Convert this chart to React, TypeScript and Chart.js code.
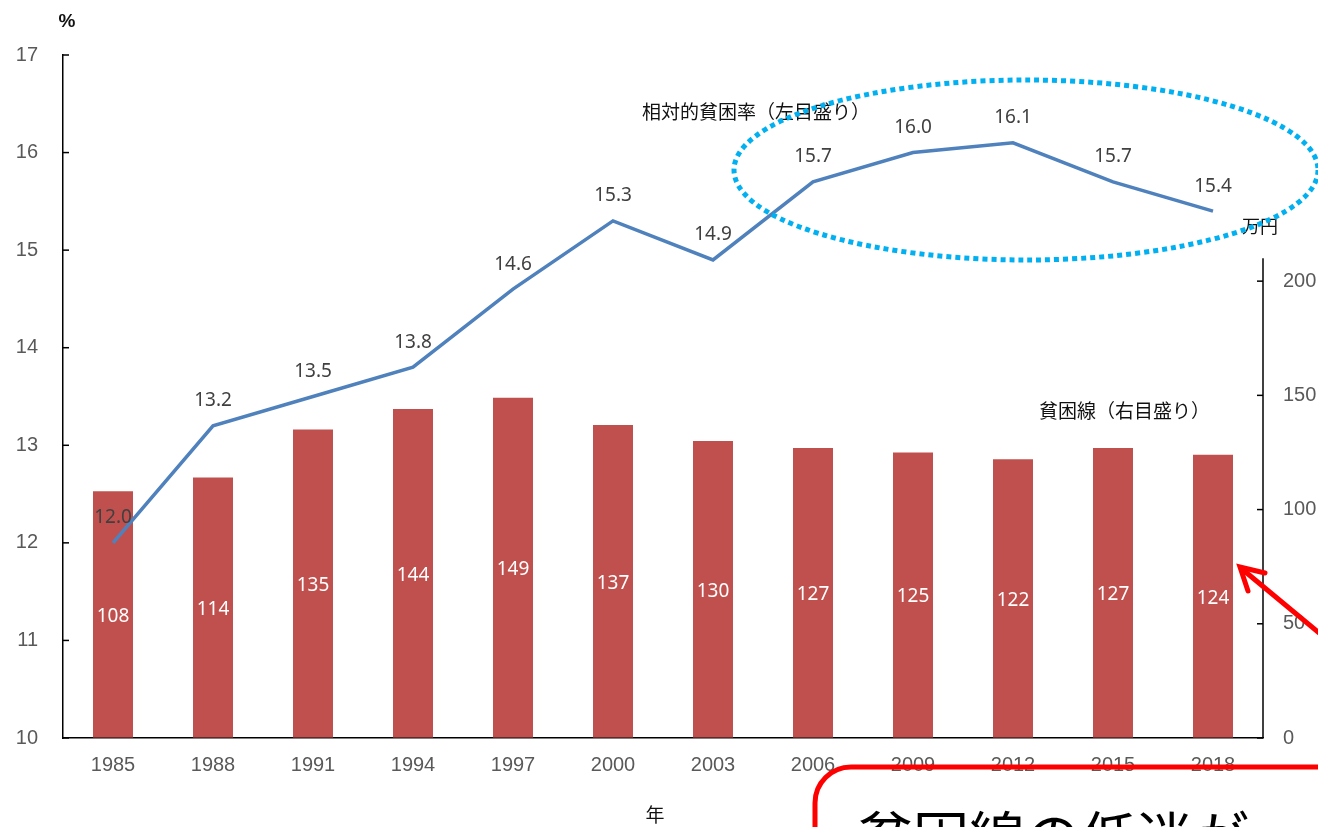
import React, { useEffect, useRef } from "react";
import { Chart, registerables } from "chart.js";

Chart.register(...registerables);

const categories = ["1985", "1988", "1991", "1994", "1997", "2000", "2003", "2006", "2009", "2012", "2015", "2018"];
const povertyRate = [12.0, 13.2, 13.5, 13.8, 14.6, 15.3, 14.9, 15.7, 16.0, 16.1, 15.7, 15.4];
const povertyLine = [108, 114, 135, 144, 149, 137, 130, 127, 125, 122, 127, 124];
const leftTicks = [10, 11, 12, 13, 14, 15, 16, 17];
const rightTicks = [0, 50, 100, 150, 200];
const rightAxisTopValue = 210;

const rateLabel = "相対的貧困率（左目盛り）";
const lineLabel = "貧困線（右目盛り）";
const leftUnit = "%";
const rightUnit = "万円";
const xTitle = "年";
const calloutText = "貧困線の低迷が";

const AXIS_FONT = "'Liberation Sans', Arial, sans-serif";
const LABEL_FONT = "'Noto Sans', sans-serif";
const JP_FONT = "'Noto Sans CJK JP', sans-serif";

const overlayPlugin = {
  id: "overlay",
  afterDraw(chart: any) {
    const ctx = chart.ctx as CanvasRenderingContext2D;
    const area = chart.chartArea;
    const yL = chart.scales.y;
    const yR = chart.scales.y1;
    ctx.save();

    // inward tick marks
    ctx.strokeStyle = "#000";
    ctx.lineWidth = 1.5;
    leftTicks.forEach((v) => {
      const y = yL.getPixelForValue(v);
      ctx.beginPath();
      ctx.moveTo(area.left, y);
      ctx.lineTo(area.left + 6, y);
      ctx.stroke();
    });
    rightTicks.forEach((v) => {
      const y = yR.getPixelForValue(v);
      ctx.beginPath();
      ctx.moveTo(area.right - 6, y);
      ctx.lineTo(area.right, y);
      ctx.stroke();
    });
    // right axis line (partial)
    ctx.beginPath();
    ctx.moveTo(area.right, yR.getPixelForValue(0));
    ctx.lineTo(area.right, yR.getPixelForValue(rightAxisTopValue));
    ctx.stroke();

    // bar labels
    const barMeta = chart.getDatasetMeta(0);
    ctx.font = `19px ${LABEL_FONT}`;
    ctx.textAlign = "center";
    ctx.textBaseline = "middle";
    ctx.fillStyle = "#ffffff";
    barMeta.data.forEach((el: any, i: number) => {
      ctx.fillText(String(povertyLine[i]), el.x, (el.y + el.base) / 2 + 2);
    });

    // line labels
    const lineMeta = chart.getDatasetMeta(1);
    ctx.fillStyle = "#404040";
    lineMeta.data.forEach((el: any, i: number) => {
      ctx.fillText(povertyRate[i].toFixed(1), el.x, el.y - 25);
    });

    // annotations
    ctx.fillStyle = "#111";
    ctx.textAlign = "left";
    ctx.font = `19px ${JP_FONT}`;
    ctx.fillText(rateLabel, 642, 112);
    ctx.fillText(lineLabel, 1039, 411);
    ctx.font = `18px ${JP_FONT}`;
    ctx.fillText(rightUnit, 1242, 226);
    ctx.textAlign = "center";
    ctx.font = `19px ${JP_FONT}`;
    ctx.fillText(xTitle, 655, 815);
    ctx.font = `bold 19px ${AXIS_FONT}`;
    ctx.fillText(leftUnit, 67, 22);

    // dotted ellipse
    ctx.strokeStyle = "#00B0F0";
    ctx.lineWidth = 5;
    ctx.setLineDash([5, 4]);
    ctx.beginPath();
    ctx.ellipse(1026, 170, 292, 90, 0, 0, Math.PI * 2);
    ctx.stroke();
    ctx.setLineDash([]);

    // red arrow
    const tipX = barMeta.data[11].x + 27;
    const tipY = 567;
    ctx.strokeStyle = "#FF0000";
    ctx.lineWidth = 5;
    ctx.lineCap = "round";
    ctx.beginPath();
    ctx.moveTo(1330, 642);
    ctx.lineTo(tipX + 2, tipY + 2);
    ctx.stroke();
    ctx.beginPath();
    ctx.moveTo(tipX + 8, tipY + 24);
    ctx.lineTo(tipX, tipY);
    ctx.lineTo(tipX + 25, tipY + 6);
    ctx.stroke();
    ctx.lineCap = "butt";

    // callout box
    ctx.lineWidth = 5;
    ctx.beginPath();
    const bx = 815, by = 767, r = 36;
    ctx.moveTo(bx, 900);
    ctx.lineTo(bx, by + r);
    ctx.arcTo(bx, by, bx + r, by, r);
    ctx.lineTo(1400, by);
    ctx.stroke();
    ctx.fillStyle = "#000";
    ctx.textAlign = "left";
    ctx.textBaseline = "alphabetic";
    ctx.font = `56px ${JP_FONT}`;
    ctx.fillText(calloutText, 857, 858);

    ctx.restore();
  },
};

export default function App() {
  const ref = useRef<HTMLCanvasElement | null>(null);
  useEffect(() => {
    if (!ref.current) return;
    const chart = new Chart(ref.current, {
      type: "bar",
      data: {
        labels: categories,
        datasets: [
          {
            type: "bar",
            label: lineLabel,
            data: povertyLine,
            yAxisID: "y1",
            backgroundColor: "#C0504D",
            barPercentage: 0.4,
            categoryPercentage: 1,
            order: 2,
          },
          {
            type: "line",
            label: rateLabel,
            data: povertyRate,
            yAxisID: "y",
            borderColor: "#4F81BD",
            borderWidth: 3.5,
            pointRadius: 0,
            tension: 0,
            order: 1,
          } as any,
        ],
      },
      options: {
        responsive: false,
        animation: false,
        devicePixelRatio: 1,
        layout: { padding: { top: 55, left: 0, right: 0, bottom: 0 } },
        plugins: { legend: { display: false }, tooltip: { enabled: false } },
        scales: {
          x: {
            offset: true,
            grid: { display: false, drawTicks: false },
            border: { color: "#000", width: 1.5 },
            ticks: { color: "#595959", font: { family: AXIS_FONT, size: 20 }, padding: 15, maxRotation: 0 },
            afterFit: (s: any) => { s.height = 89; },
          },
          y: {
            position: "left",
            min: 10,
            max: 17,
            afterBuildTicks: (s: any) => { s.ticks = leftTicks.map((v) => ({ value: v })); },
            ticks: { color: "#595959", font: { family: AXIS_FONT, size: 20 }, padding: 25 },
            grid: { drawOnChartArea: false, drawTicks: false },
            border: { color: "#000", width: 1.5 },
            afterFit: (s: any) => { s.width = 63; },
          },
          y1: {
            position: "right",
            min: 0,
            max: 299,
            afterBuildTicks: (s: any) => { s.ticks = rightTicks.map((v) => ({ value: v })); },
            ticks: { color: "#595959", font: { family: AXIS_FONT, size: 20 }, padding: 20 },
            grid: { drawOnChartArea: false, drawTicks: false },
            border: { display: false },
            afterFit: (s: any) => { s.width = 55; },
          },
        },
      } as any,
      plugins: [overlayPlugin],
    });
    return () => chart.destroy();
  }, []);
  return (
    <div style={{ position: "fixed", left: 0, top: 0, width: 1318, height: 827, background: "#fff" }}>
      <canvas ref={ref} width={1318} height={827} style={{ display: "block" }} />
    </div>
  );
}
